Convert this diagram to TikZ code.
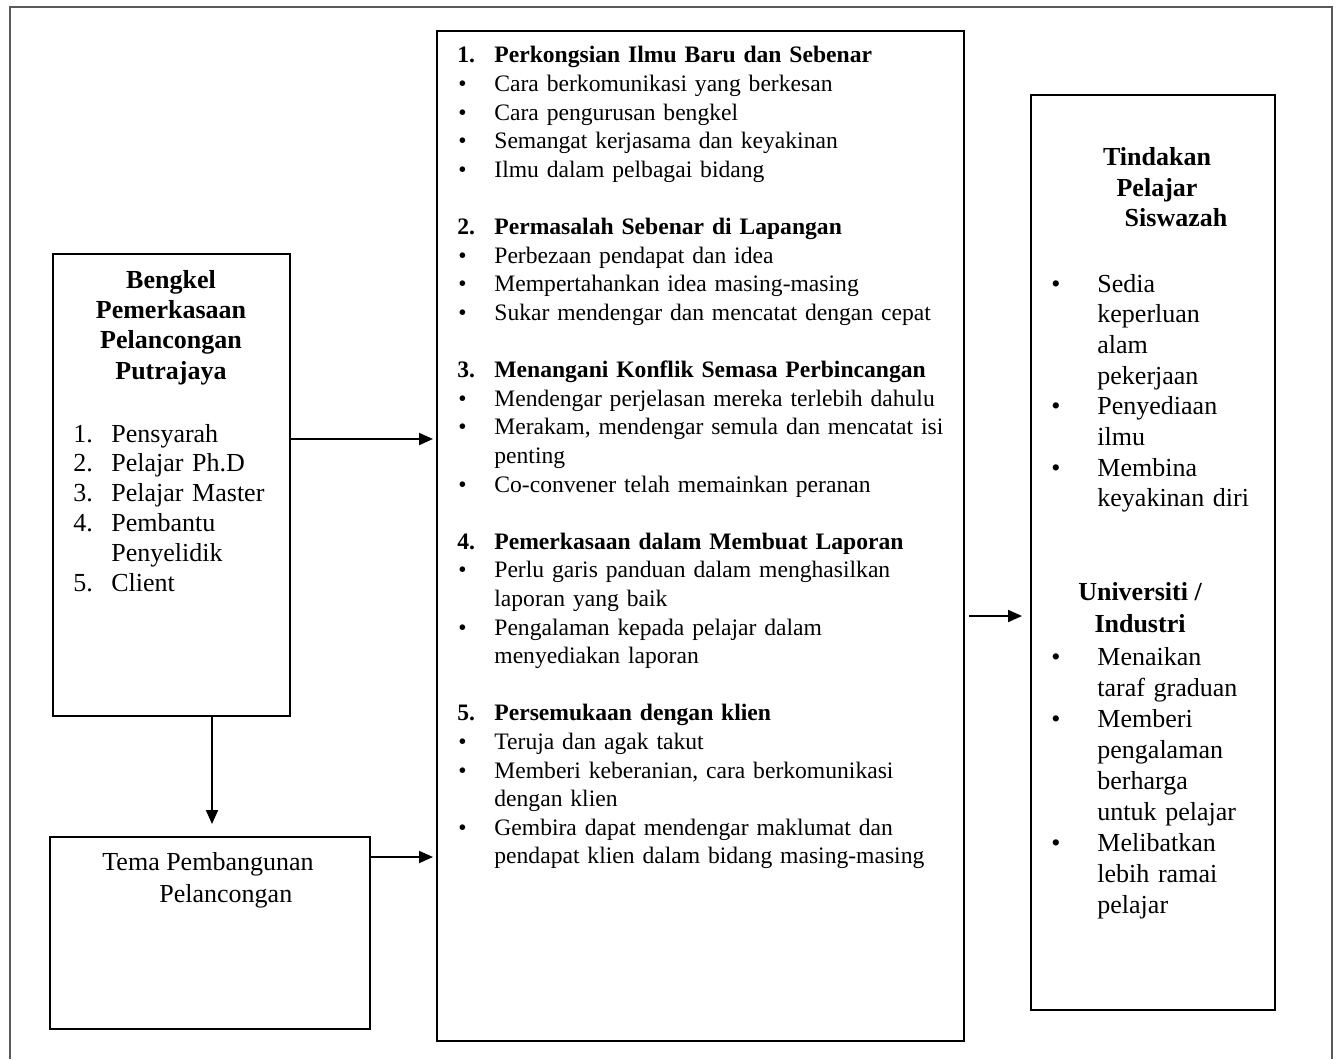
\documentclass[tikz,border=0pt]{standalone}
\usepackage{fontspec}
\setmainfont{Liberation Serif}
\usetikzlibrary{arrows.meta}
\newlength{\lekuk}
\newcommand{\judul}[2]{\noindent\hangindent=\lekuk\hangafter=1\makebox[\lekuk][l]{\textbf{#1}}\textbf{#2}\par}
\newcommand{\butir}[1]{\noindent\hangindent=\lekuk\hangafter=1\makebox[\lekuk][l]{\hspace{0.5pt}\textbullet}#1\par}
\newcommand{\nombor}[2]{\noindent\hangindent=\lekuk\hangafter=1\makebox[\lekuk][l]{#1}#2\par}
\newcommand{\kosong}{\mbox{}\par}
\begin{document}
\begin{tikzpicture}[x=0.5pt, y=-0.5pt,
  kotak/.style={draw, line width=1pt, inner sep=0pt, anchor=north west},
  teks/.style={inner sep=0pt},
  panah/.style={line width=1pt, -{Triangle[length=7pt, width=6pt]}},
  bingkai/.style={line width=0.9pt, draw=black!65}]
\useasboundingbox (0,0) rectangle (1336,1059);
\draw[bingkai] (10,1059) -- (10,7) -- (1332,7) -- (1332,1059);
\node[kotak, minimum width=118.5pt, minimum height=231pt] (bengkel) at (52,253){};
\node[kotak, minimum width=160pt, minimum height=96pt] (tema) at (49,836){};
\node[kotak, minimum width=263.5pt, minimum height=505pt] (isi) at (436,30){};
\node[kotak, minimum width=122pt, minimum height=457.5pt] (kanan) at (1030,94){};
\node[teks, align=center, anchor=base, font=\fontsize{13}{15.1}\selectfont\bfseries] (bengkeljudul) at (171,379){Bengkel\\Pemerkasaan\\Pelancongan\\Putrajaya};
\node[teks, text width=100pt, align=left, anchor=base west, font=\fontsize{13}{14.9}\selectfont] (bengkelsenarai) at (73,442){\setlength{\lekuk}{19pt}%
\nombor{1.}{Pensyarah}
\nombor{2.}{Pelajar Ph.D}
\nombor{3.}{Pelajar Master}
\nombor{4.}{Pembantu\newline Penyelidik}
\nombor{5.}{Client}};
\node[teks, align=left, anchor=base west, font=\fontsize{13}{16}\selectfont] (tematajuk) at (102,902){Tema Pembangunan\\\hspace*{28.5pt}Pelancongan};
\node[teks, text width=245pt, align=left, anchor=base west, font=\fontsize{11.8}{14.3}\selectfont] (isiteks) at (457,63){\setlength{\lekuk}{18.5pt}%
\judul{1.}{Perkongsian Ilmu Baru dan Sebenar}
\butir{Cara berkomunikasi yang berkesan}
\butir{Cara pengurusan bengkel}
\butir{Semangat kerjasama dan keyakinan}
\butir{Ilmu dalam pelbagai bidang}
\kosong
\judul{2.}{Permasalah Sebenar di Lapangan}
\butir{Perbezaan pendapat dan idea}
\butir{Mempertahankan idea masing-masing}
\butir{Sukar mendengar dan mencatat dengan cepat}
\kosong
\judul{3.}{Menangani Konflik Semasa Perbincangan}
\butir{Mendengar perjelasan mereka terlebih dahulu}
\butir{Merakam, mendengar semula dan mencatat isi\newline penting}
\butir{Co-convener telah memainkan peranan}
\kosong
\judul{4.}{Pemerkasaan dalam Membuat Laporan}
\butir{Perlu garis panduan dalam menghasilkan\newline laporan yang baik}
\butir{Pengalaman kepada pelajar dalam\newline menyediakan laporan}
\kosong
\judul{5.}{Persemukaan dengan klien}
\butir{Teruja dan agak takut}
\butir{Memberi keberanian, cara berkomunikasi\newline dengan klien}
\butir{Gembira dapat mendengar maklumat dan\newline pendapat klien dalam bidang masing-masing}};
\node[teks, align=center, anchor=base, font=\fontsize{13}{15.25}\selectfont\bfseries] (tindakan) at (1157,227){Tindakan\\Pelajar\\\hspace*{19pt}Siswazah};
\node[teks, text width=110pt, align=left, anchor=base west, font=\fontsize{13}{15.35}\selectfont] (tindakansenarai) at (1050,292){\setlength{\lekuk}{23.5pt}%
\butir{Sedia\newline keperluan\newline alam\newline pekerjaan}
\butir{Penyediaan\newline ilmu}
\butir{Membina\newline keyakinan diri}};
\node[teks, align=center, anchor=base, font=\fontsize{13}{16}\selectfont\bfseries] (uni) at (1140,632){Universiti /\\Industri};
\node[teks, text width=110pt, align=left, anchor=base west, font=\fontsize{13}{15.5}\selectfont] (unisenarai) at (1050,665){\setlength{\lekuk}{23.5pt}%
\butir{Menaikan\newline taraf graduan}
\butir{Memberi\newline pengalaman\newline berharga\newline untuk pelajar}
\butir{Melibatkan\newline lebih ramai\newline pelajar}};
\coordinate (k1) at (0,439);
\coordinate (k2) at (0,616);
\coordinate (k3) at (212,0);
\coordinate (k4) at (0,857);
\draw[panah, shorten >=1.5pt](k1 -| bengkel.east) -- (k1 -| isi.west);
\draw[panah, shorten <=2pt, shorten >=4pt](k2 -| isi.east) -- (k2 -| kanan.west);
\draw[panah, shorten >=6pt](k3 |- bengkel.south) -- (k3 |- tema.north);
\draw[panah, shorten >=1.5pt](k4 -| tema.east) -- (k4 -| isi.west);
\end{tikzpicture}
\end{document}
